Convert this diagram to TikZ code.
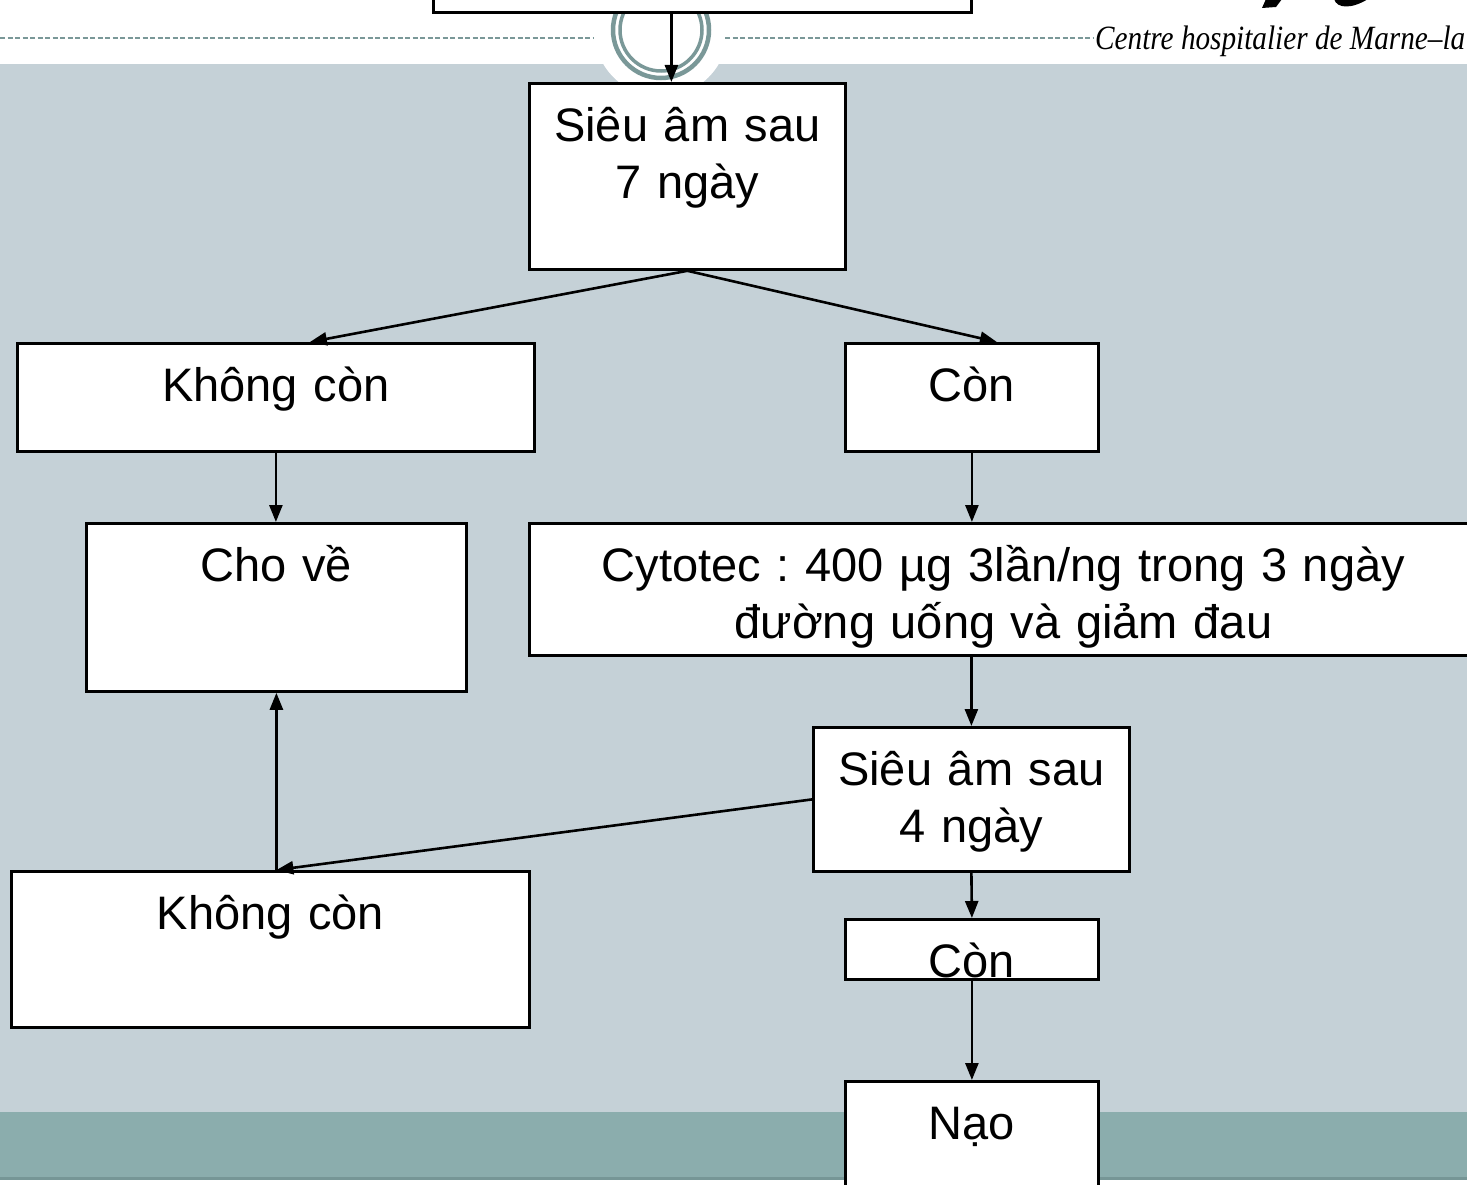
\documentclass[tikz,border=0pt]{standalone}
\usepackage{fontspec}
\setmainfont{Liberation Sans}
\newfontfamily\headfont{Liberation Serif}
\usetikzlibrary{arrows.meta}
\frenchspacing

\definecolor{slidebg}{RGB}{197,209,215}
\definecolor{slideband}{RGB}{139,173,173}
\definecolor{bandline}{RGB}{118,150,150}
\definecolor{ringcol}{RGB}{122,152,152}

\tikzset{
  box/.style n args={2}{draw, fill=white, line width=2.8pt, anchor=north west,
    inner sep=0pt, text width=#1pt, align=center,
    text height=58pt, text depth=#2pt,
    font=\fontsize{47}{57}\selectfont},
  arr/.style={-{Triangle[length=17pt,width=13pt]}, line width=2.6pt},
  ring/.style={draw=ringcol},
}

\begin{document}
\begin{tikzpicture}[x=1pt, y=-1pt]
  \useasboundingbox (0,0) rectangle (1467,1185);
  \clip (0,0) rectangle (1467,1185);

  % slide background
  \fill[slidebg] (0,64) rectangle (1467,1112);
  \fill[slideband] (0,1112) rectangle (1467,1177);
  \fill[bandline] (0,1177) rectangle (1467,1180);
  \fill[white] (661,30) circle (67pt);
  \draw[ring, line width=4.5pt] (661,30) circle (48pt);
  \draw[ring, line width=3.5pt] (661,30) circle (41pt);
  \draw[ring, line width=2.5pt, dash pattern=on 5pt off 2.5pt] (0,38) -- (594,38);
  \draw[ring, line width=2.5pt, dash pattern=on 5pt off 2.5pt] (725,38) -- (1093,38);
  \node[anchor=base west, inner sep=0pt, font=\headfont\itshape\fontsize{34}{36}\selectfont]
    (hosp) at (1095,50) {\scalebox{0.86}[1]{Centre hospitalier de Marne–la}};
  % logo
  \fill (1266,-1) -- (1282,-1) -- (1276,7) -- (1262,8) -- cycle;
  \fill (1334,-1) .. controls (1337,9) and (1352,9) .. (1368,-1) -- cycle;

  % boxes
  \node[box={538}{53}] (prev) at (432,-100) {};
  \node[box={316}{128}] (sieu7) at (528,82) {Siêu âm sau\\7 ngày};
  \node[box={517}{50}] (khong1) at (16,342) {Không còn};
  \node[box={253}{50}] (con1) at (844,342) {Còn};
  \node[box={380}{110}] (chove) at (85,522) {Cho về};
  \node[box={948}{74}] (cyto) at (528,522) {Cytotec : 400 µg 3lần/ng trong 3 ngày\\đường uống và giảm đau};
  \node[box={316}{86}] (sieu4) at (812,726) {Siêu âm sau\\4 ngày};
  \node[box={518}{98}] (khong2) at (10,870) {Không còn};
  \node[box={253}{2}] (con2) at (844,918) {Còn};
  \node[box={253}{92}] (nao) at (844,1080) {Nạo};

  % connectors
  \draw[arr] ([xshift=-31pt]prev.south) -- ([xshift=-16pt]sieu7.north);
  \draw[arr] (sieu7.south) -- ([xshift=34pt]khong1.north);
  \draw[arr] (sieu7.south) -- ([xshift=25pt]con1.north);
  \draw[arr] (khong1.south) -- (khong1.south |- chove.north);
  \draw[arr] (con1.south) -- (con1.south |- cyto.north);
  \draw[arr] (sieu4.north |- cyto.south) -- (sieu4.north);
  \coordinate (meet) at (khong2.north -| chove.south);
  \draw[arr] (sieu4.west) -- (meet);
  \draw[arr] (meet) -- (chove.south);
  \draw[arr] (sieu4.south) -- (con2.north);
  \draw[arr] (con2.south) -- (nao.north);
\end{tikzpicture}
\end{document}
